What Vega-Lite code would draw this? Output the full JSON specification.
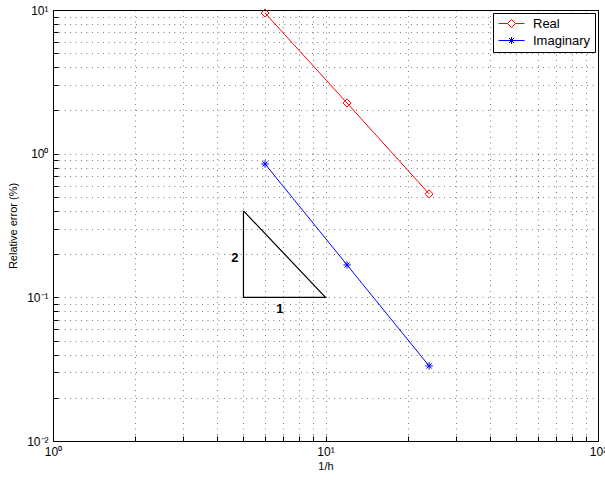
{
  "$schema": "https://vega.github.io/schema/vega-lite/v6.json",
  "autosize": "none",
  "width": 545,
  "height": 431,
  "padding": {"left": 53, "top": 10, "right": 7, "bottom": 39},
  "background": "white",
  "config": {
    "view": {"stroke": "black", "strokeWidth": 1},
    "font": "Liberation Sans",
    "axis": {
      "labelFont": "Liberation Sans",
      "labelFontSize": 12,
      "labelColor": "black",
      "titleFont": "Liberation Sans",
      "titleFontSize": 11,
      "titleFontWeight": "normal",
      "titleColor": "black",
      "domainColor": "black",
      "tickColor": "black",
      "gridColor": "#000000",
      "gridDash": [1, 4.5],
      "gridOpacity": 0.5,
      "labelOverlap": false,
      "labelFlush": false
    }
  },
  "datasets": {
    "series": [
      {"invh": 6, "err": 9.53, "part": "Real"},
      {"invh": 12, "err": 2.25, "part": "Real"},
      {"invh": 24, "err": 0.525, "part": "Real"},
      {"invh": 6, "err": 0.848, "part": "Imaginary"},
      {"invh": 12, "err": 0.168, "part": "Imaginary"},
      {"invh": 24, "err": 0.0333, "part": "Imaginary"}
    ],
    "triangle": [
      {"invh": 5, "err": 0.4, "k": 0},
      {"invh": 5, "err": 0.1, "k": 1},
      {"invh": 10, "err": 0.1, "k": 2},
      {"invh": 5, "err": 0.4, "k": 3}
    ],
    "slopes": [
      {"invh": 4.65, "err": 0.188, "txt": "2"},
      {"invh": 6.8, "err": 0.083, "txt": "1"}
    ]
  },
  "layer": [
    {
      "data": {"name": "triangle"},
      "mark": {"type": "line", "color": "black", "strokeWidth": 1.2},
      "encoding": {
        "x": {
          "field": "invh", "type": "quantitative",
          "scale": {"type": "log", "domain": [1, 100], "nice": false},
          "axis": {
            "title": "1/h",
            "titlePadding": 3,
            "values": [1,2,3,4,5,6,7,8,9,10,20,30,40,50,60,70,80,90,100],
            "labelExpr": "datum.value == 1 ? '10⁰' : datum.value == 10 ? '10¹' : datum.value == 100 ? '10²' : ''",
            "grid": true,
            "tickSize": -5,
            "labelPadding": 10
          }
        },
        "y": {
          "field": "err", "type": "quantitative",
          "scale": {"type": "log", "domain": [0.01, 10], "nice": false},
          "axis": {
            "title": "Relative error (%)",
            "titlePadding": 8,
            "values": [0.01,0.02,0.03,0.04,0.05,0.06,0.07,0.08,0.09,0.1,0.2,0.3,0.4,0.5,0.6,0.7,0.8,0.9,1,2,3,4,5,6,7,8,9,10],
            "labelExpr": "datum.value == 0.01 ? '10⁻²' : datum.value == 0.1 ? '10⁻¹' : datum.value == 1 ? '10⁰' : datum.value == 10 ? '10¹' : ''",
            "grid": true,
            "tickSize": -5,
            "labelPadding": 10
          }
        },
        "order": {"field": "k", "type": "quantitative"}
      }
    },
    {
      "data": {"name": "slopes"},
      "mark": {"type": "text", "fontWeight": "bold", "fontSize": 13, "font": "Liberation Sans", "color": "black"},
      "encoding": {
        "x": {"field": "invh", "type": "quantitative"},
        "y": {"field": "err", "type": "quantitative"},
        "text": {"field": "txt"}
      }
    },
    {
      "data": {"name": "series"},
      "mark": {"type": "line", "strokeWidth": 1},
      "encoding": {
        "x": {"field": "invh", "type": "quantitative"},
        "y": {"field": "err", "type": "quantitative"},
        "color": {
          "field": "part", "type": "nominal",
          "scale": {"domain": ["Real", "Imaginary"], "range": ["#ff0000", "#0000ff"]},
          "legend": {
            "title": null,
            "orient": "top-right",
            "offset": 3,
            "strokeColor": "black",
            "fillColor": "white",
            "padding": 4,
            "labelFont": "Liberation Sans",
            "labelFontSize": 13,
            "labelColor": "black",
            "labelOffset": 15,
            "symbolOffset": 8,
            "rowPadding": 3,
            "symbolSize": 100,
            "symbolStrokeWidth": 1,
            "symbolType": "M-2.6,0L2.6,0",
            "encoding": {
              "symbols": {
                "shape": {"value": {"expr": "datum.value === 'Real' ? 'M-2.6,0L-0.8,0M0.8,0L2.6,0M-0.8,0L0,-0.8L0.8,0L0,0.8Z' : 'M-2.6,0L2.6,0M0,-0.7L0,0.7M-0.5,-0.5L0.5,0.5M-0.5,0.5L0.5,-0.5'"}},
                "fill": {"value": "transparent"}
              }
            }
          }
        }
      }
    },
    {
      "data": {"name": "series"},
      "transform": [{"filter": "datum.part === 'Real'"}],
      "mark": {"type": "point", "shape": "diamond", "filled": false, "size": 64, "strokeWidth": 1, "opacity": 1},
      "encoding": {
        "x": {"field": "invh", "type": "quantitative"},
        "y": {"field": "err", "type": "quantitative"},
        "color": {"field": "part", "type": "nominal"}
      }
    },
    {
      "data": {"name": "series"},
      "transform": [{"filter": "datum.part === 'Imaginary'"}],
      "mark": {"type": "point", "shape": "M-1,0L1,0M0,-1L0,1M-0.7,-0.7L0.7,0.7M-0.7,0.7L0.7,-0.7", "filled": false, "size": 56, "strokeWidth": 1, "opacity": 1},
      "encoding": {
        "x": {"field": "invh", "type": "quantitative"},
        "y": {"field": "err", "type": "quantitative"},
        "color": {"field": "part", "type": "nominal"}
      }
    }
  ]
}
